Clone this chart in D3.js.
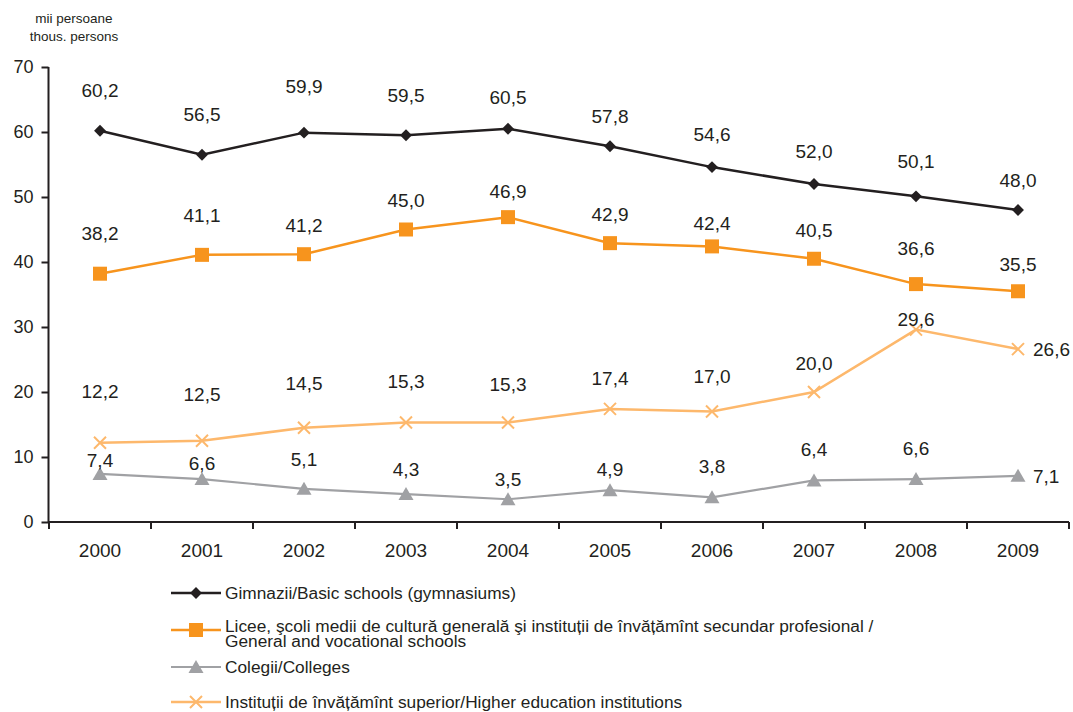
<!DOCTYPE html>
<meta charset="utf-8">
<title>Elevi si studenti</title>
<style>
  body { margin: 0; background: #fff; }
  svg text { font-family: "Liberation Sans", Arial, sans-serif; fill: #231f20; }
</style>
<body>
<script src="https://d3js.org/d3.v7.min.js"></script>
<script>
// data
var years = ["2000", "2001", "2002", "2003", "2004", "2005", "2006", "2007", "2008", "2009"];
var gymnasiums = [60.2, 56.5, 59.9, 59.5, 60.5, 57.8, 54.6, 52.0, 50.1, 48.0];
var lyceums = [38.2, 41.1, 41.2, 45.0, 46.9, 42.9, 42.4, 40.5, 36.6, 35.5];
var colleges = [7.4, 6.6, 5.1, 4.3, 3.5, 4.9, 3.8, 6.4, 6.6, 7.1];
var higherEd = [12.2, 12.5, 14.5, 15.3, 15.3, 17.4, 17.0, 20.0, 29.6, 26.6];
var yTicks = [0, 10, 20, 30, 40, 50, 60, 70];
var legendNames = [
  ["Gimnazii/Basic schools (gymnasiums)"],
  ["Licee, şcoli medii de cultură generală şi instituții de învățămînt secundar profesional /", "General and vocational schools"],
  ["Colegii/Colleges"],
  ["Instituții de învățămînt superior/Higher education institutions"]
];

// label placement (pixels above the point), as in the original layout
var gymDy = [-40, -40, -46, -40, -31, -30, -33, -33, -35, -30];
var lycDy = [-40, -40, -29, -29, -26, -29, -23, -28, -36, -27];
var colDy = [-14, -16, -30, -25, -20, -21, -31, -31, -31, 0];
var higDy = [-51, -46, -44, -41, -38, -31, -35, -29, -10, 0];

var series = [
  {values: gymnasiums, color: "#231f20", width: 2.5, marker: "diamond", dy: gymDy, lastRight: false},
  {values: lyceums, color: "#f7941d", width: 2.5, marker: "square", dy: lycDy, lastRight: false},
  {values: colleges, color: "#a0a1a4", width: 2.2, marker: "triangle", dy: colDy, lastRight: true},
  {values: higherEd, color: "#fdb86c", width: 2.5, marker: "cross", dy: higDy, lastRight: true}
];

var width = 1073, height = 712;
var svg = d3.select("body").append("svg")
    .attr("width", width)
    .attr("height", height);

var x = d3.scaleBand().domain(years).range([49, 1069]);
var y = d3.scaleLinear().domain([0, 70]).range([522, 67]);
var ink = "#231f20";

// unit label
svg.append("text").attr("x", 74).attr("y", 23).attr("text-anchor", "middle")
  .style("font-size", "13.5px").text("mii persoane");
svg.append("text").attr("x", 74).attr("y", 41).attr("text-anchor", "middle")
  .style("font-size", "13.5px").text("thous. persons");

// y axis
var yAxis = svg.append("g")
  .attr("transform", "translate(48.5,0)")
  .call(d3.axisLeft(y).tickValues(yTicks).tickSize(7).tickPadding(8).tickFormat(d3.format("d")));
yAxis.select(".domain").attr("d", "M0," + y(70) + "V" + y(0));
yAxis.selectAll("path, line").attr("stroke", ink).attr("stroke-width", 2);
yAxis.selectAll("text").style("font-size", "18px").attr("fill", ink);

// x axis: ticks on category boundaries, labels at centres
var xAxis = svg.append("g").attr("transform", "translate(0,522)");
xAxis.append("line").attr("x1", 48).attr("x2", 1069)
  .attr("stroke", ink).attr("stroke-width", 2);
var edges = years.map(function(d) { return x(d); }).concat([x.range()[1]]);
xAxis.selectAll("line.tick").data(edges).enter().append("line")
  .attr("class", "tick")
  .attr("x1", function(d) { return d; }).attr("x2", function(d) { return d; })
  .attr("y1", 0).attr("y2", 7)
  .attr("stroke", ink).attr("stroke-width", 2);
xAxis.selectAll("text").data(years).enter().append("text")
  .attr("x", function(d) { return x(d) + x.bandwidth() / 2; })
  .attr("y", 35)
  .attr("text-anchor", "middle")
  .style("font-size", "19px")
  .text(function(d) { return d; });

var cx = function(d, i) { return x(years[i]) + x.bandwidth() / 2; };

function drawMarker(g, type, color) {
  if (type == "diamond") {
    g.append("path").attr("d", d3.symbol(d3.symbolDiamond2, 90)()).attr("fill", color);
  } else if (type == "square") {
    g.append("rect").attr("x", -7).attr("y", -7).attr("width", 14).attr("height", 14).attr("fill", color);
  } else if (type == "triangle") {
    g.append("path").attr("d", "M0,-7L7.5,6L-7.5,6Z").attr("fill", color);
  } else {
    g.append("path").attr("d", "M-6,-6L6,6M-6,6L6,-6").attr("stroke", color).attr("stroke-width", 2);
  }
}

var line = d3.line()
  .x(cx)
  .y(function(d) { return y(d); });

// draw order: lighter series under darker
[3, 2, 1, 0].forEach(function(k) {
  var s = series[k];
  var g = svg.append("g");
  g.append("path").datum(s.values).attr("d", line)
    .attr("fill", "none").attr("stroke", s.color).attr("stroke-width", s.width);
  g.selectAll("g.pt").data(s.values).enter().append("g")
    .attr("class", "pt")
    .attr("transform", function(d, i) { return "translate(" + cx(d, i) + "," + y(d) + ")"; })
    .each(function() { drawMarker(d3.select(this), s.marker, s.color); });
});

// value labels
var fmt = function(v) { return v.toFixed(1).replace(".", ","); };
series.forEach(function(s) {
  svg.append("g").selectAll("text").data(s.values).enter().append("text")
    .attr("x", function(d, i) {
      return (s.lastRight && i == s.values.length - 1) ? cx(d, i) + 15 : cx(d, i);
    })
    .attr("y", function(d, i) { return y(d) + s.dy[i]; })
    .attr("dy", "0.35em")
    .attr("text-anchor", function(d, i) {
      return (s.lastRight && i == s.values.length - 1) ? "start" : "middle";
    })
    .style("font-size", "19px")
    .text(fmt);
});

// legend
var legendY = [593, 630, 667, 702];
series.forEach(function(s, k) {
  var g = svg.append("g").attr("transform", "translate(0," + legendY[k] + ")");
  g.append("line").attr("x1", 171).attr("x2", 221)
    .attr("stroke", s.color).attr("stroke-width", s.width);
  var m = g.append("g").attr("transform", "translate(196,0)");
  drawMarker(m, s.marker, s.color);
  var names = legendNames[k];
  names.forEach(function(t, j) {
    g.append("text")
      .attr("x", 225)
      .attr("y", (names.length > 1 ? -4 : 0) + j * 15)
      .attr("dy", "0.35em")
      .style("font-size", "17.3px")
      .text(t);
  });
});
</script>
</body>
